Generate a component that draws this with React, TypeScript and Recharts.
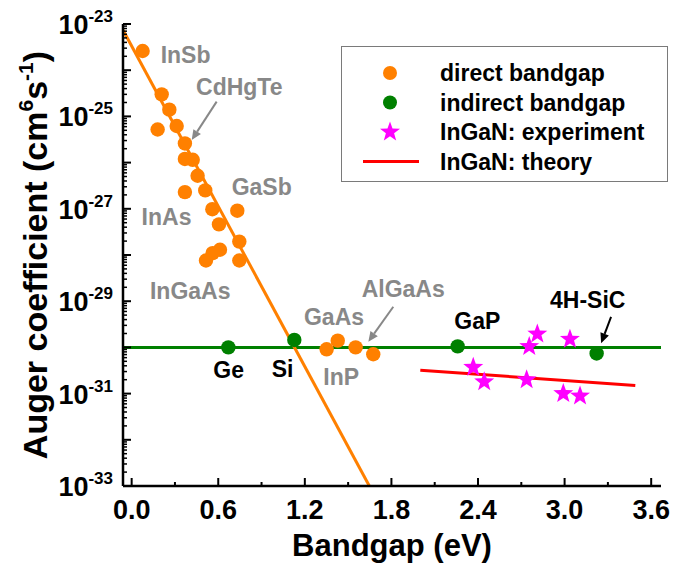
import React from 'react'
import {
  ComposedChart,
  Legend,
  Line,
  ReferenceLine,
  Scatter,
  XAxis,
  YAxis
} from 'recharts'

const ORANGE = '#ff8000'
const GREEN = '#008000'
const MAGENTA = '#ff00ff'
const RED = '#ff0000'
const GRAY = '#888888'
const FONT = '"Liberation Sans", Arial, Helvetica, sans-serif'

// x = bandgap (eV), y = Auger coefficient (cm^6 s^-1)
const directBandgap = [
  { x: 0.076, y: 2.6e-24 },
  { x: 0.208, y: 3.0e-25 },
  { x: 0.261, y: 1.4e-25 },
  { x: 0.18, y: 5.2e-26 },
  { x: 0.312, y: 6.2e-26 },
  { x: 0.369, y: 2.6e-26 },
  { x: 0.369, y: 1.2e-26 },
  { x: 0.423, y: 1.15e-26 },
  { x: 0.457, y: 5.2e-27 },
  { x: 0.369, y: 2.3e-27 },
  { x: 0.51, y: 2.5e-27 },
  { x: 0.559, y: 9.8e-28 },
  { x: 0.732, y: 9.1e-28 },
  { x: 0.605, y: 4.6e-28 },
  { x: 0.746, y: 1.95e-28 },
  { x: 0.612, y: 1.3e-28 },
  { x: 0.561, y: 1.1e-28 },
  { x: 0.515, y: 7.6e-29 },
  { x: 0.746, y: 7.6e-29 },
  { x: 1.351, y: 9.1e-31 },
  { x: 1.428, y: 1.4e-30 },
  { x: 1.552, y: 1.0e-30 },
  { x: 1.674, y: 7.1e-31 }
]

const indirectBandgap = [
  { x: 0.67, y: 1.0e-30 },
  { x: 1.127, y: 1.45e-30 },
  { x: 2.259, y: 1.05e-30 },
  { x: 3.222, y: 7.4e-31 }
]

const inganExperiment = [
  { x: 2.367, y: 3.7e-31 },
  { x: 2.443, y: 1.8e-31 },
  { x: 2.755, y: 1.05e-30 },
  { x: 2.811, y: 1.95e-30 },
  { x: 2.737, y: 2.0e-31 },
  { x: 3.037, y: 1.5e-30 },
  { x: 2.991, y: 1.0e-31 },
  { x: 3.107, y: 8.9e-32 }
]

const inganTheory = [
  { x: 2.0, y: 3.2e-31 },
  { x: 3.49, y: 1.5e-31 }
]

const directTrend = [
  { x: -0.06, y: 7.4e-24 },
  { x: 1.647, y: 1e-33 }
]

const indirectLevel = [
  { x: -0.06, y: 1e-30 },
  { x: 3.668, y: 1e-30 }
]

const materialLabels = [
  { x: 0.201, y: 1.45e-24, text: 'InSb', color: GRAY },
  { x: 0.446, y: 2.9e-25, text: 'CdHgTe', color: GRAY },
  { x: 0.693, y: 2.0e-27, text: 'GaSb', color: GRAY },
  { x: 0.069, y: 4.5e-28, text: 'InAs', color: GRAY },
  { x: 0.127, y: 1.1e-29, text: 'InGaAs', color: GRAY },
  { x: 1.194, y: 3.0e-30, text: 'GaAs', color: GRAY },
  { x: 1.594, y: 1.23e-29, text: 'AlGaAs', color: GRAY },
  { x: 1.328, y: 1.55e-31, text: 'InP', color: GRAY },
  { x: 0.566, y: 2.2e-31, text: 'Ge', color: '#000' },
  { x: 0.97, y: 2.3e-31, text: 'Si', color: '#000' },
  { x: 2.236, y: 2.5e-30, text: 'GaP', color: '#000' },
  { x: 2.899, y: 7.1e-30, text: '4H-SiC', color: '#000' }
]

const arrows = [
  { x1: 0.589, y1: 2.09e-25, x2: 0.416, y2: 3.09e-26, color: GRAY },
  { x1: 1.813, y1: 7.6e-30, x2: 1.64, y2: 1.32e-30, color: GRAY },
  { x1: 3.322, y1: 4.57e-30, x2: 3.253, y2: 1.23e-30, color: '#000' }
]

const xDomain = [-0.06, 3.668]
const xMajorTicks = [0, 0.6, 1.2, 1.8, 2.4, 3.0, 3.6]
const xMinorTicks = [0.3, 0.9, 1.5, 2.1, 2.7, 3.3]
const xTicks = [...xMajorTicks, ...xMinorTicks].sort((a, b) => a - b)

const yDomain = [1e-33, 1e-23]
const yDecades = [-33, -32, -31, -30, -29, -28, -27, -26, -25, -24, -23]
const yLabelExponents = [-33, -31, -29, -27, -25, -23]
const yMinorSteps = [2, 3, 4, 5, 6, 7, 8, 9]
const yTicks = yDecades.flatMap((d) =>
  d === -23
    ? [Math.pow(10, d)]
    : [Math.pow(10, d), ...yMinorSteps.map((m) => m * Math.pow(10, d))]
)

const legendItems = [
  { name: 'direct bandgap', kind: 'circle', color: ORANGE },
  { name: 'indirect bandgap', kind: 'circle', color: GREEN },
  { name: 'InGaN: experiment', kind: 'star', color: MAGENTA },
  { name: 'InGaN: theory', kind: 'line', color: RED }
]

const isMajorX = (v: number) => xMajorTicks.some((t) => Math.abs(t - v) < 1e-6)
const decadeOf = (v: number) => {
  const e = Math.log10(v)
  return Math.abs(e - Math.round(e)) < 1e-6 ? Math.round(e) : null
}

const starPoints = (cx: number, cy: number, R = 10.5, r = 4.3) => {
  const pts: string[] = []
  for (let i = 0; i < 10; i++) {
    const rad = i % 2 === 0 ? R : r
    const a = -Math.PI / 2 + (i * Math.PI) / 5
    pts.push(`${cx + rad * Math.cos(a)},${cy + rad * Math.sin(a)}`)
  }
  return pts.join(' ')
}

function BottomTick({ x, y, payload }: any) {
  const major = isMajorX(payload.value)
  return (
    <g>
      <line x1={x} x2={x} y1={y} y2={y - (major ? 8 : 4)} stroke="#000" strokeWidth={2} />
      {major && (
        <text x={x} y={y + 33} textAnchor="middle" fontFamily={FONT} fontSize={27} fontWeight="bold" fill="#000">
          {payload.value.toFixed(1)}
        </text>
      )}
    </g>
  )
}

function TopTick({ x, y, payload }: any) {
  const major = isMajorX(payload.value)
  return <line x1={x} x2={x} y1={y} y2={y + (major ? 8 : 4)} stroke="#000" strokeWidth={2} />
}

function LeftTick({ x, y, payload }: any) {
  const e = decadeOf(payload.value)
  return (
    <g>
      <line x1={x} x2={x + (e !== null ? 8 : 4)} y1={y} y2={y} stroke="#000" strokeWidth={e !== null ? 2 : 1.5} />
      {e !== null && yLabelExponents.includes(e) && (
        <text x={x - 10} y={y + 10} textAnchor="end" fontFamily={FONT} fontWeight="bold" fill="#000">
          <tspan fontSize={27}>10</tspan>
          <tspan fontSize={17} dy={-12}>{`${e}`}</tspan>
        </text>
      )}
    </g>
  )
}

function RightTick({ x, y, payload }: any) {
  const e = decadeOf(payload.value)
  return <line x1={x} x2={x - (e !== null ? 8 : 4)} y1={y} y2={y} stroke="#000" strokeWidth={e !== null ? 2 : 1.5} />
}

function YTitle({ viewBox }: any) {
  const cx = (viewBox?.x ?? 0) + 47
  const cy = (viewBox?.y ?? 24) + (viewBox?.height ?? 462) / 2
  return (
    <text
      x={cx}
      y={cy}
      transform={`rotate(-90, ${cx}, ${cy})`}
      textAnchor="middle"
      fontFamily={FONT}
      fontWeight="bold"
      fontSize={34}
      fill="#000"
    >
      <tspan>Auger coefficient (cm</tspan>
      <tspan fontSize={21} dy={-14}>6</tspan>
      <tspan dy={14}>s</tspan>
      <tspan fontSize={21} dy={-14}>-1</tspan>
      <tspan dy={14}>)</tspan>
    </text>
  )
}

function Arrow(props: any) {
  const { x1, y1, x2, y2, stroke } = props
  const dx = x2 - x1
  const dy = y2 - y1
  const len = Math.sqrt(dx * dx + dy * dy) || 1
  const ux = dx / len
  const uy = dy / len
  const head = 10
  const half = 4.5
  const bx = x2 - ux * head
  const by = y2 - uy * head
  return (
    <g>
      <line x1={x1} y1={y1} x2={bx} y2={by} stroke={stroke} strokeWidth={2} />
      <polygon
        points={`${x2},${y2} ${bx - uy * half},${by + ux * half} ${bx + uy * half},${by - ux * half}`}
        fill={stroke}
      />
    </g>
  )
}

function LegendBox() {
  return (
    <svg width={328} height={137} style={{ display: 'block' }}>
      <rect x={0.5} y={0.5} width={326} height={135} fill="#fff" stroke="#7a7a7a" strokeWidth={1} />
      {legendItems.map((item, i) => {
        const cy = 27 + i * 29.5
        return (
          <g key={item.name}>
            {item.kind === 'circle' && <circle cx={49} cy={cy} r={7} fill={item.color} />}
            {item.kind === 'star' && <polygon points={starPoints(49, cy)} fill={item.color} />}
            {item.kind === 'line' && (
              <line x1={22} x2={78} y1={cy} y2={cy} stroke={item.color} strokeWidth={3} />
            )}
            <text x={99} y={cy + 8} fontFamily={FONT} fontWeight="bold" fontSize={23} fill="#000">
              {item.name}
            </text>
          </g>
        )
      })}
    </svg>
  )
}

const axisLine = { stroke: '#000', strokeWidth: 2.5 }

export default function App() {
  return (
    <div style={{ position: 'fixed', left: 0, top: 0, width: 673, height: 567, background: '#fff' }}>
      <ComposedChart width={673} height={567} margin={{ top: 24, right: 12, bottom: 0, left: 0 }}>
        <XAxis
          type="number"
          dataKey="x"
          domain={xDomain}
          allowDataOverflow
          ticks={xTicks}
          interval={0}
          tickLine={false}
          tickSize={0}
          tickMargin={0}
          height={81}
          axisLine={axisLine}
          tick={<BottomTick />}
          label={{
            value: 'Bandgap (eV)',
            position: 'insideBottom',
            offset: 11,
            fill: '#000',
            fontSize: 31,
            fontWeight: 'bold',
            fontFamily: FONT
          }}
        />
        <XAxis
          xAxisId="top"
          orientation="top"
          type="number"
          dataKey="x"
          domain={xDomain}
          allowDataOverflow
          ticks={xTicks}
          interval={0}
          tickLine={false}
          tickSize={0}
          tickMargin={0}
          height={0}
          axisLine={axisLine}
          tick={<TopTick />}
        />
        <YAxis
          type="number"
          dataKey="y"
          scale="log"
          domain={yDomain}
          allowDataOverflow
          ticks={yTicks}
          interval={0}
          tickLine={false}
          tickSize={0}
          tickMargin={0}
          width={123}
          axisLine={axisLine}
          tick={<LeftTick />}
          label={(p: any) => <YTitle viewBox={p.viewBox} />}
        />
        <YAxis
          yAxisId="right"
          orientation="right"
          type="number"
          dataKey="y"
          scale="log"
          domain={yDomain}
          allowDataOverflow
          ticks={yTicks}
          interval={0}
          tickLine={false}
          tickSize={0}
          tickMargin={0}
          width={0}
          axisLine={axisLine}
          tick={<RightTick />}
        />
        <Legend
          layout="vertical"
          align="center"
          verticalAlign="middle"
          wrapperStyle={{ left: 341, top: 46, width: 328, height: 137 }}
          content={() => <LegendBox />}
        />
        <Line
          data={indirectLevel}
          dataKey="y"
          stroke={GREEN}
          strokeWidth={3}
          dot={false}
          legendType="none"
          isAnimationActive={false}
        />
        <Line
          data={directTrend}
          dataKey="y"
          stroke={ORANGE}
          strokeWidth={3}
          dot={false}
          legendType="none"
          isAnimationActive={false}
        />
        <Line
          data={inganTheory}
          dataKey="y"
          name="InGaN: theory"
          stroke={RED}
          strokeWidth={3}
          dot={false}
          isAnimationActive={false}
        />
        <Scatter
          data={directBandgap}
          name="direct bandgap"
          fill={ORANGE}
          isAnimationActive={false}
          shape={(p: any) => <circle cx={p.cx} cy={p.cy} r={7.2} fill={ORANGE} />}
        />
        <Scatter
          data={indirectBandgap}
          name="indirect bandgap"
          fill={GREEN}
          isAnimationActive={false}
          shape={(p: any) => <circle cx={p.cx} cy={p.cy} r={7.2} fill={GREEN} />}
        />
        <Scatter
          data={inganExperiment}
          name="InGaN: experiment"
          fill={MAGENTA}
          isAnimationActive={false}
          shape={(p: any) => <polygon points={starPoints(p.cx, p.cy)} fill={MAGENTA} />}
        />
        <Scatter
          data={materialLabels}
          legendType="none"
          isAnimationActive={false}
          shape={(p: any) => (
            <text x={p.cx} y={p.cy} fontFamily={FONT} fontWeight="bold" fontSize={23} fill={p.payload.color}>
              {p.payload.text}
            </text>
          )}
        />
        {arrows.map((a, i) => (
          <ReferenceLine
            key={i}
            segment={[
              { x: a.x1, y: a.y1 },
              { x: a.x2, y: a.y2 }
            ]}
            stroke={a.color}
            ifOverflow="visible"
            shape={(p: any) => <Arrow {...p} stroke={a.color} />}
          />
        ))}
      </ComposedChart>
    </div>
  )
}
